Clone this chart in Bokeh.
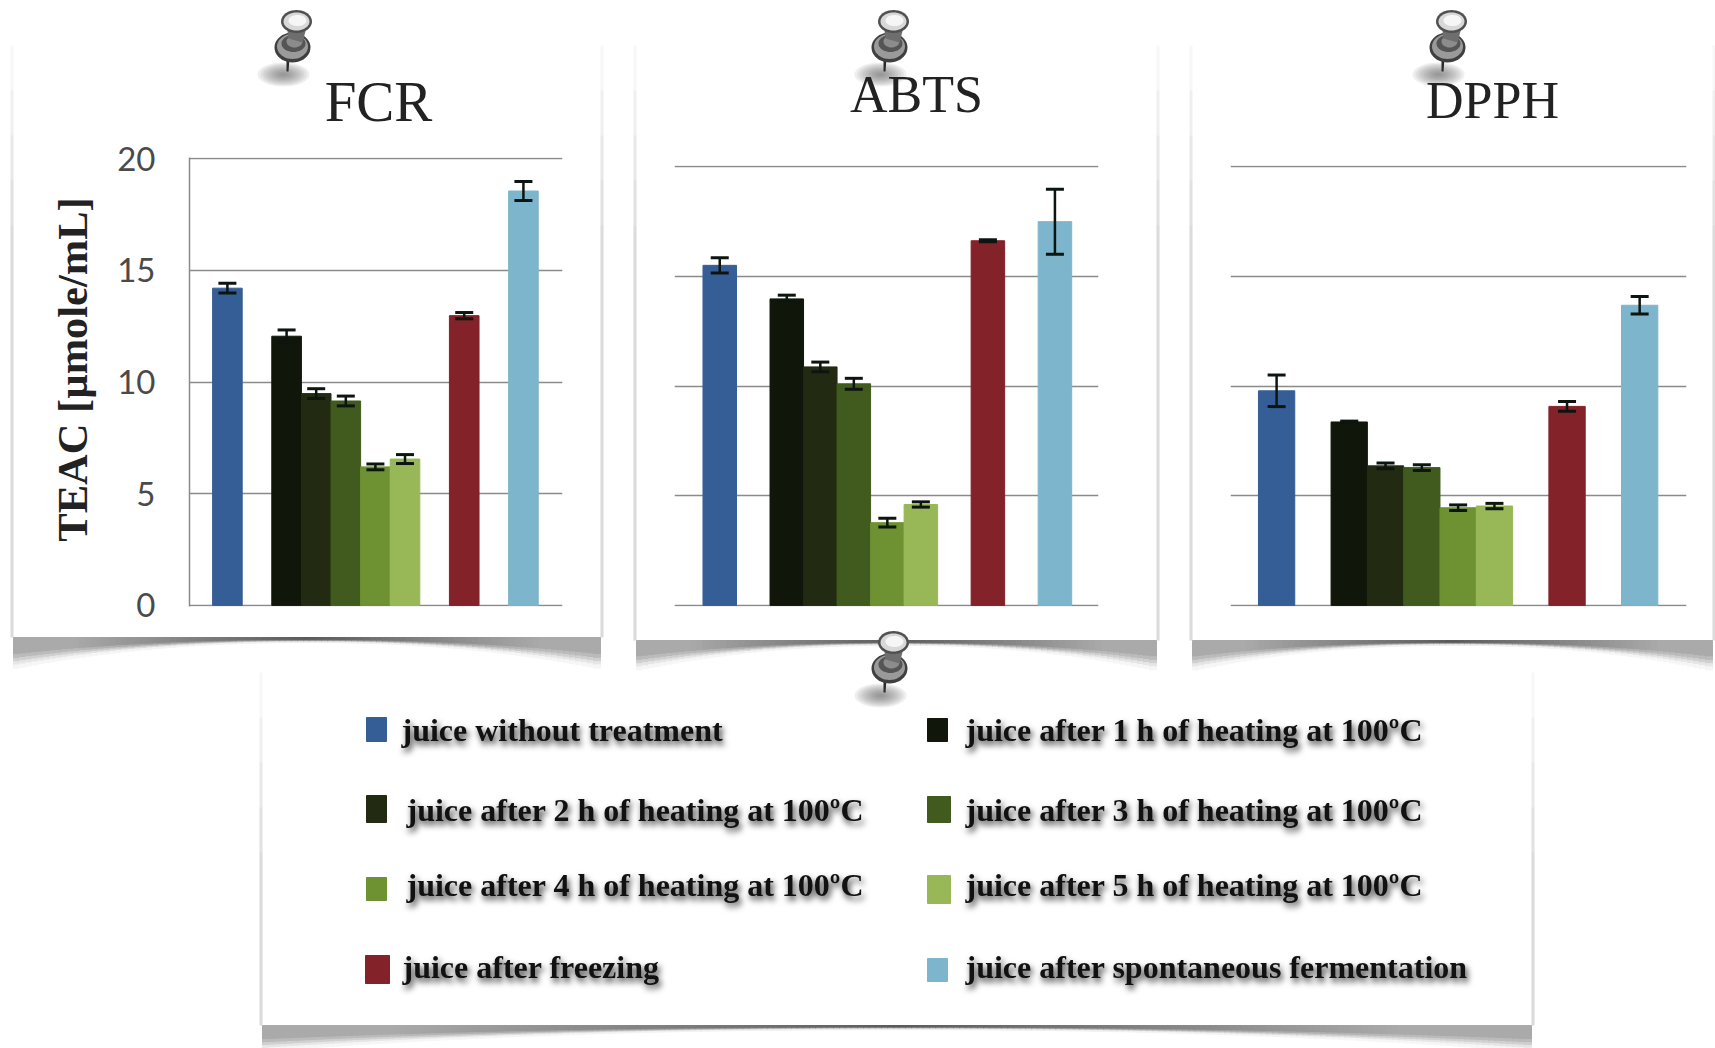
import math
from bokeh.embed import file_html
from bokeh.resources import INLINE
from bokeh.layouts import column, row
from bokeh.models import ColumnDataSource, FixedTicker, Range1d, TeeHead, Whisker
from bokeh.plotting import figure
from bokeh.core.properties import value

series = ["juice without treatment", "juice after 1 h of heating at 100ºC", "juice after 2 h of heating at 100ºC",
          "juice after 3 h of heating at 100ºC", "juice after 4 h of heating at 100ºC",
          "juice after 5 h of heating at 100ºC", "juice after freezing", "juice after spontaneous fermentation"]
colors = ["#365e96", "#11160a", "#222b12", "#415a1e", "#6e9132", "#98b858", "#832229", "#7db5cc"]
slots = [0, 2, 3, 4, 5, 6, 8, 10]
y_ticks = [0, 5, 10, 15, 20]
titles = ["FCR", "ABTS", "DPPH"]
y_label = "TEAC [µmole/mL]"

fcr = [14.2, 12.05, 9.48, 9.15, 6.2, 6.55, 12.97, 18.55]
fcr_err = [0.22, 0.28, 0.22, 0.22, 0.13, 0.2, 0.14, 0.43]
abts = [15.5, 13.97, 10.87, 10.1, 3.77, 4.6, 16.62, 17.49]
abts_err = [0.35, 0.17, 0.22, 0.25, 0.2, 0.12, 0.05, 1.48]
dpph = [9.78, 8.36, 6.36, 6.28, 4.45, 4.53, 9.07, 13.68]
dpph_err = [0.72, 0.04, 0.13, 0.13, 0.13, 0.12, 0.22, 0.4]

SERIF = "Liberation Serif"
W, H, ROW_H = 1715, 1048, 668

# ---- paper layer: cards, shadows, pins, titles, legend swatches (page pixels)
deco = figure(width=W, height=H, output_backend="svg", toolbar_location=None, x_range=Range1d(0, W),
              y_range=Range1d(H, 0), min_border=0, x_axis_location=None, y_axis_location=None,
              outline_line_color=None, background_fill_color="white", border_fill_color="white", frame_align=False)
deco.grid.visible = False


def poly(xs, ys, color, alpha=1.0):
    deco.patch(xs, ys, fill_color=color, fill_alpha=alpha, line_color=None)


def ell(cx, cy, rx, ry, color, alpha=1.0):
    angles = [2 * math.pi * i / 40 for i in range(40)]
    poly([cx + rx * math.cos(a) for a in angles], [cy + ry * math.sin(a) for a in angles], color, alpha)


def pin(hx, hy):
    for k in range(9):
        ell(hx - 13, hy + 50, 26 - 2.8 * k, 12 - 1.3 * k, "#666666", 0.1)
    poly([hx - 10, hx - 7, hx - 8, hx - 10], [hy + 34, hy + 34, hy + 47, hy + 47], "#2a2a2a")
    ell(hx - 4, hy + 23, 18, 15, "#3f3f3f")
    ell(hx - 4, hy + 22, 15.5, 12.5, "#9a9a9a")
    ell(hx - 3, hy + 19, 12, 8.5, "#555555")
    ell(hx - 2, hy + 17, 8, 6, "#8c8c8c")
    poly([hx - 10, hx + 10, hx + 6, hx - 8], [hy - 1, hy + 3, hy + 18, hy + 14], "#6e6e6e")
    ell(hx, hy - 3, 15.5, 11.5, "#505050")
    ell(hx, hy - 3, 13, 9, "#d8d8d8")
    ell(hx + 1, hy - 4, 9, 5.5, "#f6f6f6")


shadow = dict(left=[], right=[], top=[], bottom=[], color=[])


def grey(level):
    v = int(round(level))
    return f"#{v:02x}{v:02x}{v:02x}"


def card(left, right, top, bottom, depth):
    n = (right - left) // 6
    bands = [(0.0, 0.62, 0.0), (0.62, 0.76, 0.2), (0.76, 0.88, 0.45), (0.88, 1.0, 0.7), (1.0, 1.12, 0.9)]
    for i in range(n):
        x0 = left + (right - left) * i // n
        x1 = left + (right - left) * (i + 1) // n
        u = abs(2 * (x0 + x1) / 2 - left - right) / (right - left)
        d = depth * (0.16 + 0.84 * u ** 2.2)
        base = 90 + 80 * min(1.0, u / 0.8)
        for a, b, fade in bands:
            shadow["left"].append(x0)
            shadow["right"].append(x1)
            shadow["top"].append(bottom + d * a)
            shadow["bottom"].append(bottom + d * b)
            shadow["color"].append(grey(base + (255 - base) * fade))
    for x0, x1 in [(left - 3, left), (right, min(right + 3, W))]:
        for k in range(5):
            poly([x0, x1, x1, x0], [top + k * 45, top + k * 45, bottom, bottom], "#888888", 0.07)


card(13, 600, 45, 637, 28)
card(636, 1156, 45, 640, 27)
card(1192, 1712, 45, 640, 27)
card(262, 1531, 672, 1025, 23)
deco.quad(left="left", right="right", top="top", bottom="bottom", color="color",
          source=ColumnDataSource(shadow))
pin(296, 24)
pin(893, 24)
pin(1451, 24)
pin(893, 645)

title_x = [378, 916, 1492]
title_y = [101, 94, 100]
title_size = ["57px", "52px", "52px"]
for t, tx, ty, ts in zip(titles, title_x, title_y, title_size):
    deco.text(x=[tx], y=[ty], text=[t], text_font=value(SERIF), text_color="#222222",
              text_font_size=value(ts), text_align="center", text_baseline="alphabetic")

deco.text(x=[72], y=[369], text=[y_label], angle=math.pi / 2, text_font=value(SERIF), text_font_style="bold",
          text_color="#222222", text_font_size=value("42.5px"), text_align="center", text_baseline="middle")

leg_x = [366, 927, 366, 927, 366, 927, 365, 927]
leg_w = [20, 20, 20, 23, 20, 23, 24, 20]
leg_t = [717, 718, 795, 796, 877, 875, 955, 958]
leg_b = [741, 741, 822, 822, 900, 903, 983, 981]
deco.quad(left=leg_x, right=[a + b for a, b in zip(leg_x, leg_w)], top=leg_t, bottom=leg_b, color=colors)


# ---- chart layer
def panel(data, err, frame, fig_x, width, x_lo, x_hi, show_axis=False):
    left, right, top, bottom = frame
    p = figure(width=width, height=ROW_H, output_backend="svg", toolbar_location=None,
               x_range=Range1d(x_lo, x_hi), y_range=Range1d(-0.05, 20.05), frame_align=False,
               min_border_left=left - fig_x, min_border_right=fig_x + width - right,
               min_border_top=top - 1, min_border_bottom=ROW_H - bottom - 1,
               x_axis_location=None, y_axis_location="left" if show_axis else None,
               background_fill_color=None, border_fill_color=None, outline_line_color=None)
    p.xgrid.visible = False
    p.ygrid.ticker = FixedTicker(ticks=y_ticks)
    p.ygrid.grid_line_color = "#8a8a8a"
    p.ygrid.grid_line_width = 1.5
    if show_axis:
        ax = p.yaxis[0]
        ax.ticker = FixedTicker(ticks=y_ticks)
        ax.major_tick_line_color = None
        ax.minor_tick_line_color = None
        ax.axis_line_color = "#8a8a8a"
        ax.axis_line_width = 1.5
        ax.major_label_standoff = 28
        ax.major_label_text_font = "Lato"
        ax.major_label_text_font_size = "33px"
        ax.major_label_text_color = "#4a4a4a"
    src = ColumnDataSource(dict(x=slots, top=data, color=colors,
                                lower=[d - e for d, e in zip(data, err)], upper=[d + e for d, e in zip(data, err)]))
    p.vbar(x="x", top="top", bottom=0, width=1.0, color="color", source=src)
    p.add_layout(Whisker(base="x", lower="lower", upper="upper", source=src, line_color="#0d1510", line_width=2.5,
                         level="overlay",
                         upper_head=TeeHead(size=18, line_color="#0d1510", line_width=3),
                         lower_head=TeeHead(size=18, line_color="#0d1510", line_width=3)))
    return p


f1 = panel(fcr, fcr_err, (189, 562, 158, 605), 0, 618, -1.28, 11.32, True)
f2 = panel(abts, abts_err, (674, 1098, 166, 605), 618, 554, -1.35, 11.3)
f3 = panel(dpph, dpph_err, (1230, 1686, 166, 605), 1172, 543, -1.27, 11.29)

# ---- legend text layer
txt_x = [401, 965, 406, 965, 406, 965, 402, 965]
txt_y = [729, 729, 809, 809, 884, 884, 966, 966]
leg = figure(width=W, height=H - ROW_H, output_backend="svg", toolbar_location=None, frame_align=False,
             x_range=Range1d(0, W), y_range=Range1d(H, ROW_H), min_border=0,
             x_axis_location=None, y_axis_location=None, background_fill_color=None, border_fill_color=None,
             outline_line_color=None, styles={"filter": "drop-shadow(2px 4px 3px rgba(0,0,0,0.8))"})
leg.grid.visible = False
leg.text(x=txt_x, y=txt_y, text=series, text_font=value(SERIF), text_font_style="bold", text_font_size="32px",
         text_color="#111111", text_baseline="alphabetic")

page = column(deco, row(f1, f2, f3, spacing=0, margin=(-H, 0, 0, 0)), leg, spacing=0)
open("out.html", "w").write(file_html(page, INLINE))
